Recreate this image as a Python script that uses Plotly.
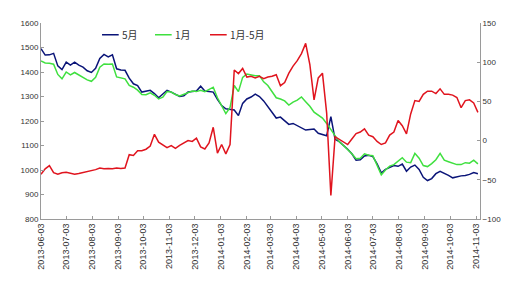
import pandas as pd
import plotly.graph_objects as go

dates = pd.date_range("2013-06-03", periods=105, freq="5D")

may_vals = [
    1495, 1469, 1470, 1476, 1425, 1410, 1440, 1428, 1440, 1428,
    1420, 1405, 1398, 1415, 1455, 1472, 1462, 1470, 1413, 1408,
    1407, 1375, 1352, 1345, 1318, 1320, 1325, 1312, 1295, 1310,
    1325, 1318, 1310, 1300, 1303, 1318, 1320, 1322, 1342, 1322,
    1320, 1318, 1288, 1263, 1250, 1248, 1245, 1222, 1272, 1290,
    1298, 1310, 1300, 1282, 1258, 1238, 1212, 1216, 1200, 1186,
    1190, 1180, 1170, 1163, 1165, 1167, 1150, 1145, 1140, 1218,
    1125, 1116, 1102, 1085, 1066, 1040, 1042, 1057, 1060, 1055,
    1025, 988, 1003, 1010, 1018, 1015, 1024, 995, 1012, 1020,
    1002, 970, 957, 965, 985, 995, 988, 978, 968, 973,
    976, 978, 982, 990, 985,
]

jan_vals = [
    1445, 1437, 1436, 1432, 1390, 1372, 1400, 1388, 1398, 1388,
    1380, 1368, 1362, 1378, 1420, 1433, 1432, 1433, 1380, 1376,
    1372, 1345, 1338, 1326, 1308, 1307, 1315, 1305, 1290, 1297,
    1320, 1318, 1308, 1302, 1308, 1316, 1322, 1320, 1325, 1320,
    1328, 1338, 1295, 1265, 1230, 1255, 1345, 1320, 1378, 1392,
    1388, 1385, 1385, 1360, 1345, 1318, 1295, 1290, 1282, 1265,
    1277, 1285, 1298, 1279, 1260, 1236, 1225, 1212, 1190, 1165,
    1135, 1115, 1100, 1085, 1066, 1046, 1048, 1066, 1060, 1058,
    1020, 980, 1000, 1016, 1022, 1038, 1050, 1032, 1030, 1068,
    1048, 1018, 1014, 1026, 1042, 1068, 1040, 1034, 1028, 1022,
    1022, 1030, 1028, 1040, 1025,
]

spread_vals = [
    -43, -36, -32, -41, -43, -41, -40.5, -42, -43, -42,
    -41, -39.5, -38.5, -37, -35, -36, -35.5, -36, -35, -35.5,
    -35, -18, -19, -13, -13, -11, -7, 8, -2, -6,
    -9, -6.4, -10, -6, -3.5, 0, -1, 3, -8, -10.7,
    -3, 17, -16, -5, -17, -5, 90, 85.5, 92, 81,
    82, 80, 82, 79, 81, 82, 84, 70, 74, 86,
    95, 102, 111, 124, 97, 52, 80, 86, 35, -70,
    5, 2, -2, -5, 2, 9, 11, 15, 7, 5,
    -1, -5, -3, 7, 11, 25.6, 19, 8.6, 34, 51,
    50, 59, 63, 63, 60, 66, 59, 59, 58, 55,
    42, 51, 52, 48, 36,
]

series_names = ["5月", "1月", "1月-5月"]
series_colors = ["#0a1478", "#3fe03f", "#e0141e"]

tick_dates = pd.date_range("2013-06-01", "2014-11-01", freq="MS") + pd.Timedelta(days=2)
tick_text = [d.strftime("%Y-%m-%d") for d in tick_dates]

left_ticks = list(range(800, 1601, 100))
right_ticks = list(range(-100, 151, 50))

font_main = "Liberation Sans, Noto Sans CJK SC, sans-serif"
cjk_font = "Noto Sans CJK SC, Liberation Sans, sans-serif"
axis_col = "#9a9a9a"
text_col = "#333333"

fig = go.Figure()
fig.add_trace(go.Scatter(x=dates, y=may_vals, name=series_names[0], mode="lines",
                         line=dict(color=series_colors[0], width=1.5)))
fig.add_trace(go.Scatter(x=dates, y=jan_vals, name=series_names[1], mode="lines",
                         line=dict(color=series_colors[1], width=1.5)))
fig.add_trace(go.Scatter(x=dates, y=spread_vals, name=series_names[2], mode="lines",
                         yaxis="y2", line=dict(color=series_colors[2], width=1.5)))

# compact legend row (line sample + label) placed like the original
legend_x0 = [0.139, 0.2597, 0.385]
legend_len = 0.038
legend_y = 0.94
for name, col, lx in zip(series_names, series_colors, legend_x0):
    fig.add_shape(type="line", xref="paper", yref="paper",
                  x0=lx, x1=lx + legend_len, y0=legend_y, y1=legend_y,
                  line=dict(color=col, width=1.5))
    fig.add_annotation(xref="paper", yref="paper", x=lx + legend_len + 0.004, y=legend_y,
                       xanchor="left", yanchor="middle", text=name, showarrow=False,
                       font=dict(family=cjk_font, size=10, color=text_col))

fig.update_layout(
    width=512, height=284,
    margin=dict(l=41, r=32, t=23, b=65),
    paper_bgcolor="white", plot_bgcolor="white",
    font=dict(family=font_main, size=8, color=text_col),
    showlegend=False,
    xaxis=dict(type="date", range=["2013-06-03", "2014-11-07 12:00"],
               tickvals=tick_dates, ticktext=tick_text, tickangle=-90,
               showgrid=False, zeroline=False, showline=True, linecolor=axis_col,
               linewidth=1, ticks="inside", ticklen=3, tickcolor=axis_col,
               tickfont=dict(size=9, color=text_col)),
    yaxis=dict(range=[800, 1600], tickvals=left_ticks, showgrid=False, zeroline=False,
               showline=True, linecolor=axis_col, linewidth=1, ticks="inside",
               ticklen=3, tickcolor=axis_col, tickfont=dict(size=8, color=text_col)),
    yaxis2=dict(range=[-100, 150], tickvals=right_ticks, overlaying="y", side="right",
                showgrid=False, zeroline=False, showline=True, linecolor=axis_col,
                linewidth=1, ticks="inside", ticklen=3, tickcolor=axis_col,
                tickfont=dict(size=8, color=text_col)),
)

fig.write_html("out.html")
